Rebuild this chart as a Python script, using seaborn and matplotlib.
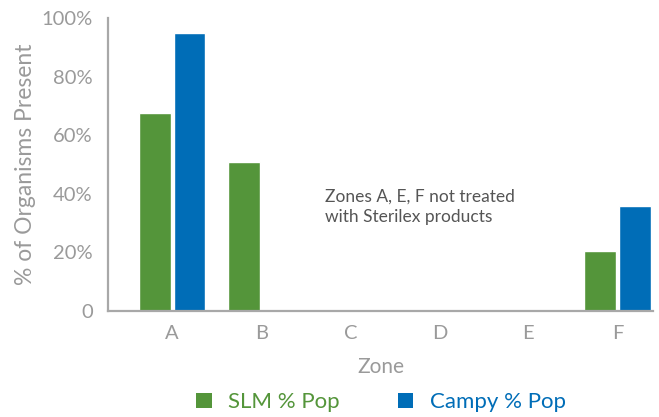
import matplotlib
matplotlib.use("Agg")
import matplotlib.pyplot as plt
import seaborn as sns
import pandas as pd
from matplotlib.patches import Patch

zones = ["A", "B", "C", "D", "E", "F"]
slm = [67.6, 50.9, 0, 0, 0, 20.5]
campy = [94.9, 0, 0, 0, 0, 35.8]
series = ["SLM % Pop", "Campy % Pop"]
colors = ["#54953A", "#006DB7"]
yticks = [0, 20, 40, 60, 80, 100]
ytick_labels = ["0", "20%", "40%", "60%", "80%", "100%"]

df = pd.DataFrame({
    "Zone": zones * 2,
    "value": slm + campy,
    "series": [series[0]] * len(zones) + [series[1]] * len(zones),
})

sns.set_theme(style="white")
plt.rcParams["font.family"] = ["Lato", "DejaVu Sans"]

fig = plt.figure(figsize=(6.59, 4.17), dpi=100)
ax = fig.add_axes([0.164, 0.254, 0.827, 0.703])
sns.barplot(data=df, x="Zone", y="value", hue="series", palette=colors,
            width=0.78, gap=0.09, ax=ax, legend=False, saturation=1)

gray = "#9a9a9a"
ax.set_ylim(0, 100)
ax.set_xlim(-0.72, 5.40)
ax.set_yticks(yticks)
ax.set_yticklabels(ytick_labels)
for s in ["top", "right"]:
    ax.spines[s].set_visible(False)
for s in ["left", "bottom"]:
    ax.spines[s].set_color("#a8a8a8")
    ax.spines[s].set_linewidth(1.6)
ax.tick_params(axis="y", direction="in", length=9, width=1.6, color="#a8a8a8",
               labelsize=14.5, labelcolor=gray, pad=11)
ax.tick_params(axis="x", length=0, labelsize=14.5, labelcolor=gray, pad=10)
ax.set_xlabel("Zone", fontsize=15, color=gray, labelpad=11)
ax.set_ylabel("% of Organisms Present", fontsize=16.5, color=gray, labelpad=4)

ax.text(1.72, 35.5, "Zones A, E, F not treated\nwith Sterilex products",
        fontsize=12.5, color="#555555", va="center", ha="left", linespacing=1.3)

handles = [Patch(facecolor=c, edgecolor="none") for c in colors]
leg = fig.legend(handles, series, loc="center", bbox_to_anchor=(0.578, 0.035),
                 ncol=2, frameon=False, fontsize=16, handlelength=0.7,
                 handleheight=0.7, handletextpad=0.75, columnspacing=2.6)
for t, c in zip(leg.get_texts(), colors):
    t.set_color(c)

fig.savefig("out.png", dpi=100)
